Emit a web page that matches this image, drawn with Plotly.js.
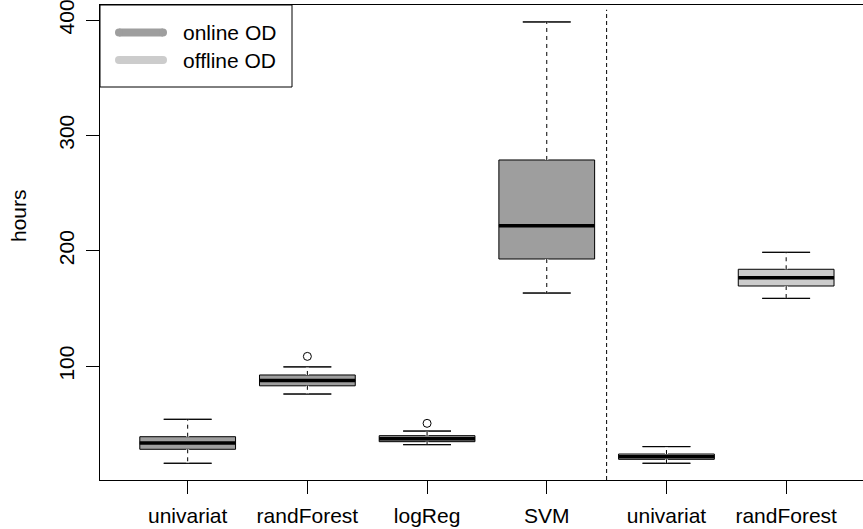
<!DOCTYPE html>
<html><head><meta charset="utf-8">
<script src="https://cdn.plot.ly/plotly-3.0.1.min.js"></script>
<style>html,body{margin:0;padding:0;background:#fff;}#chart{width:863px;height:529px;}</style>
</head><body><div id="chart"></div>
<script>
// ---- data ----
const categories   = ['univariat', 'randForest', 'logReg', 'SVM', 'univariat', 'randForest'];
const groups       = ['online', 'online', 'online', 'online', 'offline', 'offline'];
const lowerWhisker = [15.9, 75.9, 32.0, 163.4, 15.9, 158.8];
const q1           = [28.0, 83.0, 34.6, 192.9, 19.3, 169.5];
const median       = [33.4, 87.6, 37.2, 221.8, 21.6, 176.7];
const q3           = [38.9, 92.4, 39.8, 278.7, 23.9, 184.0];
const upperWhisker = [54.0, 99.4, 43.8, 398.3, 30.3, 198.7];
const outlierCategoryIndex = [1, 2];
const outlierValue = [108.5, 50.5];
const yTickValues  = [100, 200, 300, 400];
const groupOrder   = ['online', 'offline'];
const legendLabels = {online: 'online OD', offline: 'offline OD'};
const yTitle = 'hours';

// ---- styles ----
const W = 863, H = 529, M = {l: 100, r: 0, t: 5, b: 49};
const fillColor = {online: '#9E9E9E', offline: '#CCCCCC'};
const boxWidth = 0.8, capFrac = 0.5;
const FONT = 'Liberation Sans, Arial, sans-serif';
const positions = categories.map((c, i) => i + 1);
const px2x = px => (px - M.l) / (W - M.l - M.r);
const px2y = py => (H - M.b - py) / (H - M.t - M.b);

const traces = [];
groupOrder.forEach(g => {
  const idx = positions.map((p, i) => i).filter(i => groups[i] === g);
  traces.push({
    type: 'box', name: legendLabels[g], showlegend: false,
    x: idx.map(i => positions[i]),
    q1: idx.map(i => q1[i]), median: idx.map(i => median[i]), q3: idx.map(i => q3[i]),
    lowerfence: idx.map(i => lowerWhisker[i]), upperfence: idx.map(i => upperWhisker[i]),
    width: boxWidth, whiskerwidth: capFrac, boxpoints: false,
    fillcolor: fillColor[g], line: {color: '#000', width: 1},
    hoverinfo: 'skip'
  });
});

function segs(fn) {
  const xs = [], ys = [];
  positions.forEach((p, i) => { fn(p, i).forEach(s => { xs.push(s[0], s[2], null); ys.push(s[1], s[3], null); }); });
  return {x: xs, y: ys};
}
const hw = boxWidth / 2, cw = boxWidth * capFrac / 2;
const stems = segs((p, i) => [[p, q3[i], p, upperWhisker[i]], [p, q1[i], p, lowerWhisker[i]]]);
traces.push(Object.assign({type: 'scatter', mode: 'lines', showlegend: false, hoverinfo: 'skip', line: {color: '#fff', width: 3}}, stems));
traces.push(Object.assign({type: 'scatter', mode: 'lines', showlegend: false, hoverinfo: 'skip', line: {color: '#000', width: 1, dash: '4px,4px'}}, stems));
const caps = segs((p, i) => [[p - cw, upperWhisker[i], p + cw, upperWhisker[i]], [p - cw, lowerWhisker[i], p + cw, lowerWhisker[i]]]);
traces.push(Object.assign({type: 'scatter', mode: 'lines', showlegend: false, hoverinfo: 'skip', line: {color: '#000', width: 1}}, caps));
const meds = segs((p, i) => [[p - hw, median[i], p + hw, median[i]]]);
traces.push(Object.assign({type: 'scatter', mode: 'lines', showlegend: false, hoverinfo: 'skip', line: {color: '#000', width: 3.5}}, meds));
traces.push({type: 'scatter', mode: 'markers', showlegend: false,
  x: outlierCategoryIndex.map(i => positions[i]), y: outlierValue,
  marker: {symbol: 'circle-open', size: 8, color: '#000', line: {width: 1}}});

const nOnline = groups.filter(g => g === 'online').length;

// legend box drawn in the plot's top-left corner
const shapes = [
  {type: 'line', xref: 'x', yref: 'paper', x0: nOnline + 0.5, x1: nOnline + 0.5, y0: 0, y1: 0.99,
    line: {color: '#000', width: 1, dash: '4px,3px'}},
  {type: 'rect', xref: 'paper', yref: 'paper', x0: 0, x1: px2x(292), y0: px2y(87), y1: 1,
    fillcolor: '#fff', line: {color: '#000', width: 1}, layer: 'above'}
];
const annotations = [
  {text: yTitle, xref: 'paper', yref: 'paper', x: px2x(18), y: px2y(216), textangle: -90,
    xanchor: 'center', yanchor: 'middle',
    showarrow: false, font: {family: FONT, size: 21, color: '#000'}}
];
const legendRows = [32.5, 60];
groupOrder.forEach((g, k) => {
  shapes.push({type: 'line', xref: 'paper', yref: 'paper', x0: px2x(119), x1: px2x(163),
    y0: px2y(legendRows[k]), y1: px2y(legendRows[k]), line: {color: fillColor[g], width: 8}, layer: 'above'});
  shapes.push({type: 'circle', xref: 'paper', yref: 'paper', x0: px2x(115), x1: px2x(123),
    y0: px2y(legendRows[k] + 4), y1: px2y(legendRows[k] - 4), fillcolor: fillColor[g], line: {width: 0}, layer: 'above'});
  shapes.push({type: 'circle', xref: 'paper', yref: 'paper', x0: px2x(159), x1: px2x(167),
    y0: px2y(legendRows[k] + 4), y1: px2y(legendRows[k] - 4), fillcolor: fillColor[g], line: {width: 0}, layer: 'above'});
  annotations.push({text: legendLabels[g], xref: 'paper', yref: 'paper', x: px2x(181), y: px2y(legendRows[k]),
    xanchor: 'left', yanchor: 'middle', showarrow: false, font: {family: FONT, size: 21, color: '#000'}});
});

const layout = {
  width: W, height: H,
  margin: {l: M.l, r: M.r, t: M.t, b: M.b, pad: 0},
  paper_bgcolor: '#fff', plot_bgcolor: '#fff',
  font: {family: FONT, size: 21, color: '#000'},
  showlegend: false,
  xaxis: {range: [0.2675, 6.642], tickvals: positions, ticktext: categories,
    showgrid: false, zeroline: false, showline: true, mirror: true, linecolor: '#000', linewidth: 1,
    ticks: 'outside', ticklen: 13, tickcolor: '#000', tickwidth: 1, ticklabelstandoff: 4},
  yaxis: {range: [1.39, 413.0], tickvals: yTickValues, tickangle: -90,
    showgrid: false, zeroline: false, showline: true, linecolor: '#000', linewidth: 1,
    ticks: 'outside', ticklen: 13, tickcolor: '#000', tickwidth: 1, ticklabelstandoff: 4,
    ticklabeloverflow: 'allow'},
  shapes: shapes,
  annotations: annotations
};

Plotly.newPlot('chart', traces, layout, {displayModeBar: false, staticPlot: true});
</script></body></html>
